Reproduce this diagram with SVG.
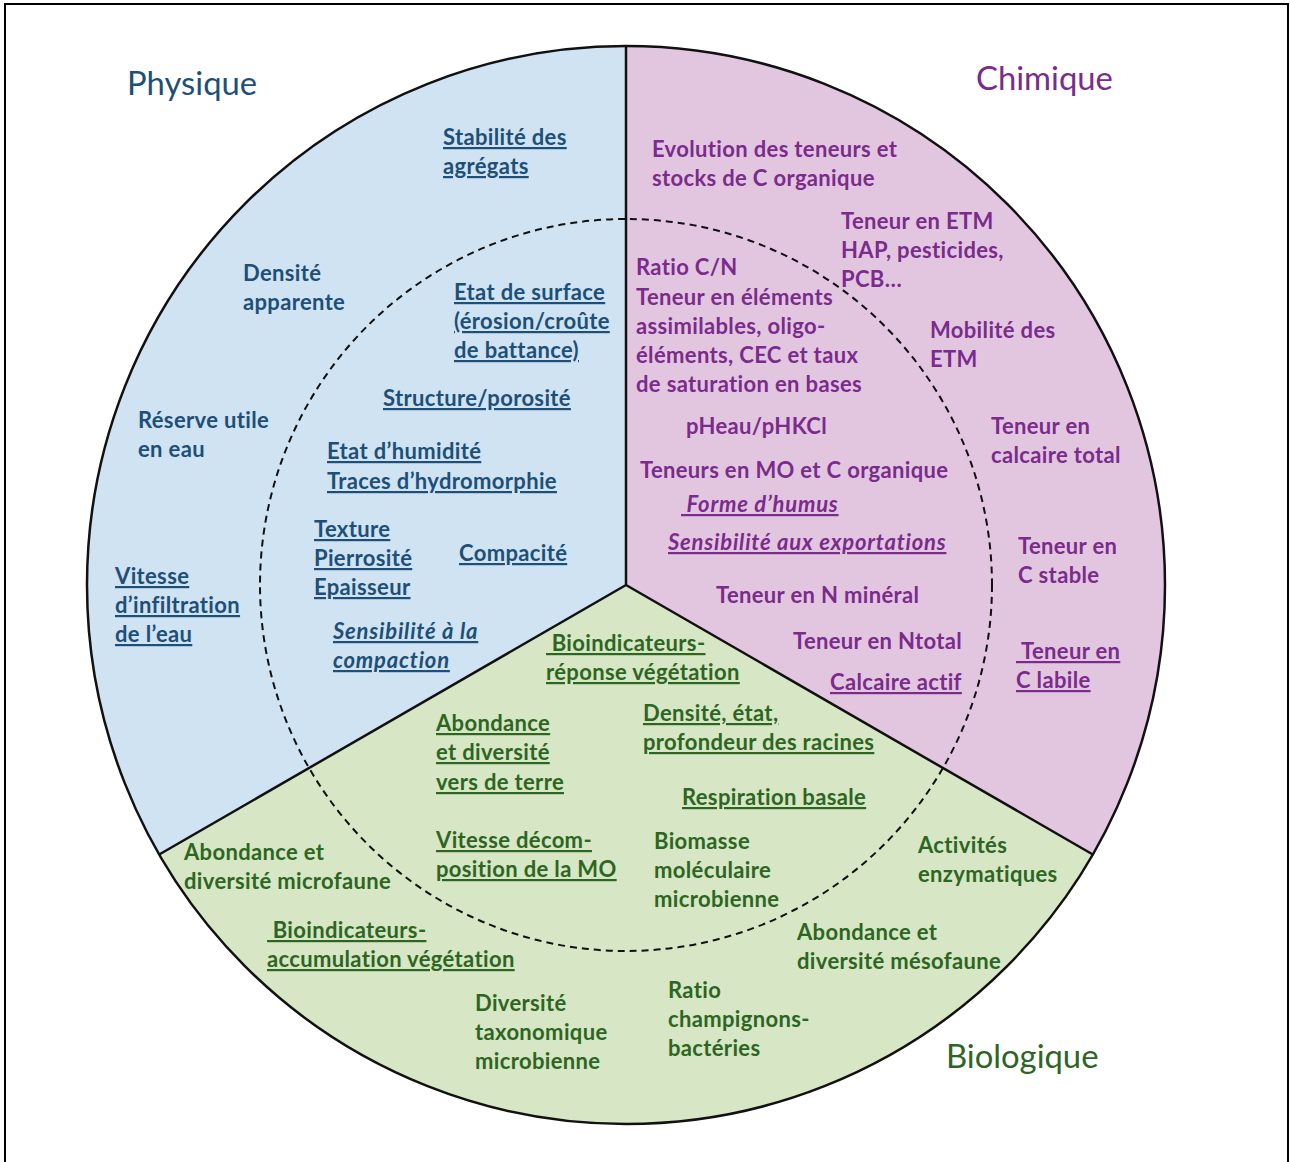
<svg xmlns="http://www.w3.org/2000/svg" width="1290" height="1162" viewBox="0 0 1290 1162">
<style>
text{font-family:"Lato","Open Sans",sans-serif;font-weight:bold;font-size:22px;letter-spacing:0.35px}
.h{font-weight:normal;font-size:32.8px;letter-spacing:0}
.b{fill:#1d4f78}
.p{fill:#7a2b8c}
.g{fill:#2c6622}
.u{text-decoration:underline;text-decoration-thickness:2px}
.i{font-style:italic;letter-spacing:0.8px}
.sec{stroke:none}
</style>
<rect x="5" y="4" width="1283" height="1170" fill="#fff" stroke="#000" stroke-width="2"/>
<g id="sectors">
<path class="sec" d="M626,585 L626,46 A539,539 0 0 0 159.2,854.5 Z" fill="#cfe3f3"/>
<path class="sec" d="M626,585 L626,46 A539,539 0 0 1 1092.8,854.5 Z" fill="#e2c6e0"/>
<path class="sec" d="M626,585 L159.2,854.5 A539,539 0 0 0 1092.8,854.5 Z" fill="#d7e6c4"/>
</g>
<g id="connectors" fill="none" stroke="#111">
<circle cx="626" cy="585" r="539" stroke-width="2.5"/>
<path d="M626,46 L626,585 M626,585 L159.2,854.5 M626,585 L1092.8,854.5" stroke-width="2.5"/>
<circle cx="626" cy="585" r="366" stroke-width="2" stroke-dasharray="7 5"/>
</g>
<g id="physique" class="b">
<text id="t-physique" class="h b" x="127" y="95">Physique</text>
<g id="n-stabilite"><text class="u" x="443" y="145">Stabilité des</text><text class="u" x="443" y="174">agrégats</text></g>
<g id="n-densite"><text x="243" y="281">Densité</text><text x="243" y="310">apparente</text></g>
<g id="n-etat-surface"><text class="u" x="454" y="300">Etat de surface</text><text class="u" x="454" y="329">(érosion/croûte</text><text class="u" x="454" y="358">de battance)</text></g>
<g id="n-structure"><text class="u" x="383" y="406">Structure/porosité</text></g>
<g id="n-reserve"><text x="138" y="428">Réserve utile</text><text x="138" y="457">en eau</text></g>
<g id="n-humidite"><text class="u" x="327" y="459">Etat d’humidité</text><text class="u" x="327" y="489">Traces d’hydromorphie</text></g>
<g id="n-texture"><text class="u" x="314" y="537">Texture</text><text class="u" x="314" y="566">Pierrosité</text><text class="u" x="314" y="595">Epaisseur</text></g>
<g id="n-compacite"><text class="u" x="459" y="561">Compacité</text></g>
<g id="n-vitesse-inf"><text class="u" x="115" y="584">Vitesse</text><text class="u" x="115" y="613">d’infiltration</text><text class="u" x="115" y="642">de l’eau</text></g>
<g id="n-sens-compaction"><text class="u i" x="333" y="639">Sensibilité à la</text><text class="u i" x="333" y="668">compaction</text></g>
</g>
<g id="chimique" class="p">
<text id="t-chimique" class="h p" x="976" y="90">Chimique</text>
<g id="n-evolution"><text x="652" y="157">Evolution des teneurs et</text><text x="652" y="186">stocks de C organique</text></g>
<g id="n-etm"><text x="841" y="229">Teneur en ETM</text><text x="841" y="258">HAP, pesticides,</text><text x="841" y="287">PCB…</text></g>
<g id="n-ratio-cn"><text x="636" y="275">Ratio C/N</text><text x="636" y="305">Teneur en éléments</text><text x="636" y="334">assimilables, oligo-</text><text x="636" y="363">éléments, CEC et taux</text><text x="636" y="392">de saturation en bases</text></g>
<g id="n-mobilite"><text x="930" y="338">Mobilité des</text><text x="930" y="367">ETM</text></g>
<g id="n-ph"><text x="686" y="434">pHeau/pHKCl</text></g>
<g id="n-calcaire-total"><text x="991" y="434">Teneur en</text><text x="991" y="463">calcaire total</text></g>
<g id="n-mo"><text x="640" y="478">Teneurs en MO et C organique</text></g>
<g id="n-humus"><text class="u i" x="681" y="512" xml:space="preserve"> Forme d’humus</text></g>
<g id="n-exportations"><text class="u i" x="668" y="550">Sensibilité aux exportations</text></g>
<g id="n-c-stable"><text x="1018" y="554">Teneur en</text><text x="1018" y="583">C stable</text></g>
<g id="n-n-mineral"><text x="716" y="603">Teneur en N minéral</text></g>
<g id="n-ntotal"><text x="793" y="649">Teneur en Ntotal</text></g>
<g id="n-c-labile"><text class="u" x="1016" y="659" xml:space="preserve"> Teneur en</text><text class="u" x="1016" y="688">C labile</text></g>
<g id="n-calcaire-actif"><text class="u" x="830" y="690">Calcaire actif</text></g>
</g>
<g id="biologique" class="g">
<text id="t-biologique" class="h g" x="946" y="1068">Biologique</text>
<g id="n-bioind-reponse"><text class="u" x="546" y="651" xml:space="preserve"> Bioindicateurs-</text><text class="u" x="546" y="680">réponse végétation</text></g>
<g id="n-vers"><text class="u" x="436" y="731">Abondance</text><text class="u" x="436" y="760">et diversité</text><text class="u" x="436" y="790">vers de terre</text></g>
<g id="n-racines"><text class="u" x="643" y="721">Densité, état,</text><text class="u" x="643" y="750">profondeur des racines</text></g>
<g id="n-respiration"><text class="u" x="682" y="805">Respiration basale</text></g>
<g id="n-decomposition"><text class="u" x="436" y="848">Vitesse décom-</text><text class="u" x="436" y="877">position de la MO</text></g>
<g id="n-biomasse"><text x="654" y="849">Biomasse</text><text x="654" y="878">moléculaire</text><text x="654" y="907">microbienne</text></g>
<g id="n-enzymes"><text x="918" y="853">Activités</text><text x="918" y="882">enzymatiques</text></g>
<g id="n-microfaune"><text x="184" y="860">Abondance et</text><text x="184" y="889">diversité microfaune</text></g>
<g id="n-bioind-accum"><text class="u" x="267" y="938" xml:space="preserve"> Bioindicateurs-</text><text class="u" x="267" y="967">accumulation végétation</text></g>
<g id="n-mesofaune"><text x="797" y="940">Abondance et</text><text x="797" y="969">diversité mésofaune</text></g>
<g id="n-diversite-tax"><text x="475" y="1011">Diversité</text><text x="475" y="1040">taxonomique</text><text x="475" y="1069">microbienne</text></g>
<g id="n-ratio-champ"><text x="668" y="998">Ratio</text><text x="668" y="1027">champignons-</text><text x="668" y="1056">bactéries</text></g>
</g>
</svg>
